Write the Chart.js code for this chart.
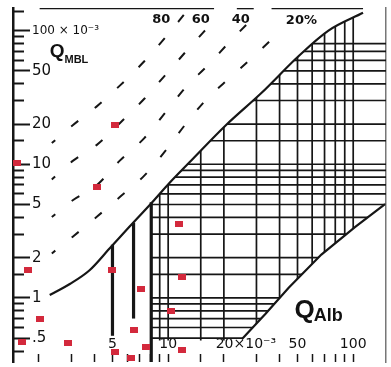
<!DOCTYPE html>
<html><head><meta charset="utf-8">
<script src="https://cdn.jsdelivr.net/npm/chart.js@4.4.1/dist/chart.umd.min.js"></script>
<style>html,body{margin:0;padding:0;background:#fff;}canvas{display:block;}</style>
</head><body>
<canvas id="c" width="391" height="367"></canvas>
<script>
// ---------- data (Q values in units of 10^-3) ----------
const xTickValues = [2,3,4,5,6,7,8,9,10,15,20,30,40,50,60,70,80,90,100];
const xLabelValues = [5,10,50,100];
const xLabelTexts = ['5','10','50','100'];
const xUnitLabelValue = 20;
const xUnitLabelText = '20×10⁻³';
const yMajorTicks = [0.5,1,2,5,10,20,50,100];
const yMajorLabels = ['.5','1','2','5','10','20','50','100 × 10⁻³'];
const yMinorTicks = [0.4,0.6,0.7,0.8,0.9,1.5,3,4,6,7,8,9,15,30,40,60,70,80,90,140];

const patientQAlb = [5.13,1.52,4.10,11.5,1.75,5.0,11.9,7.16,2.02,10.4,6.56,1.62,2.86,7.62,5.19,11.9,6.33];
const patientQMBL = [19.6,10.3,6.71,3.58,1.61,1.61,1.43,1.17,0.70,0.80,0.57,0.466,0.458,0.428,0.393,0.406,0.355];

const qlimQAlb = [2.29,2.94,3.76,4.82,6.17,8.2,10.1,13.0,20.5,32.0,50.6,73.5,113];
const qlimQMBL = [1.05,1.27,1.61,2.34,3.40,5.20,7.18,10.3,19.6,34.3,64.3,100,136];
const lowerQAlb = [25.0,33.6,44.8,67.3,102.6,148.6];
const lowerQMBL = [0.49,0.76,1.19,2.11,3.40,5.02];

const line80QAlb = [2.35,3.05,4.10,5.46,7.43,9.75,12.3];
const line80QMBL = [14.4,19.6,27.0,38.6,59.0,90.3,134];
const line60QAlb = [2.35,3.05,4.10,5.46,7.43,9.75,12.5,17.3];
const line60QMBL = [7.69,10.6,13.9,20.2,30.9,47.3,70,115];
const line40QAlb = [2.35,3.05,4.10,5.46,7.43,9.75,12.5,16.2,22.1,29.7];
const line40QMBL = [4.03,5.38,6.94,10.6,15.7,24.8,38,54.2,85.9,130];
const line20QAlb = [2.35,3.05,4.10,5.46,7.43,9.75,12.5,16.2,21.8,29.0,38.5];
const line20QMBL = [2.15,2.87,4.03,5.66,8.22,12.8,20.2,30.9,45.0,64.3,93.4];

const heavyQAlb = [5, 6.5, 8.1];
const heavyTopQMBL = [2.5, 3.65, 5.2];
const heavyBottomQMBL = [0.52, 0.70, 0.331];

const hatchQAlb = [9,10,15,20,30,40,50,60,70,80,90,100];
const hatchQMBL = [0.5,0.6,0.7,0.8,0.9,1,1.5,2,3,4,5,6,7,8,9,10,15,20,30,40,50,60,70,80];
const hatchLeftQAlb = 8.1;
const hatchBottomQMBL = 0.48;

const frameTopQMBL = 147;
const frameTopSegments = [[2.02,17.7],[23.5,29.0],[36.2,113]];

// ---------- chart ----------
const X_MIN = 1.45, X_MAX = 150.4, Y_MIN = 0.331, Y_MAX = 147.8;
const INK = '#161616';
const zip = (xs, ys) => xs.map((x, i) => ({x, y: ys[i]}));

const dot = document.createElement('canvas');
dot.width = 8; dot.height = 6;
{ const c = dot.getContext('2d'); c.fillStyle = '#d3293c'; c.fillRect(0, 0, 8, 6); }

Chart.defaults.font.family = "'DejaVu Sans', sans-serif";
Chart.defaults.color = '#111';

const common = {showLine: true, pointRadius: 0, pointHoverRadius: 0, fill: false, xAxisID: 'x', yAxisID: 'y'};
const datasets = [];
datasets.push({label: 'patients', data: zip(patientQAlb, patientQMBL), showLine: false,
  pointStyle: dot, pointRadius: 4, order: 0, xAxisID: 'x', yAxisID: 'y'});
datasets.push({...common, role: 'qlim', data: zip(qlimQAlb, qlimQMBL), borderColor: INK, borderWidth: 2.2,
  cubicInterpolationMode: 'monotone', order: 1});
datasets.push({...common, data: zip(lowerQAlb, lowerQMBL), borderColor: INK, borderWidth: 2.2, tension: 0, order: 1});
heavyQAlb.forEach((x, i) => datasets.push({...common,
  data: [{x, y: heavyBottomQMBL[i]}, {x, y: heavyTopQMBL[i]}], borderColor: INK, borderWidth: 3.2, order: 1}));
hatchQAlb.forEach(x => datasets.push({...common, hatch: true,
  data: [{x, y: Y_MIN}, {x, y: Y_MAX}], borderColor: INK, borderWidth: 1.7, order: 2}));
hatchQMBL.forEach(y => datasets.push({...common, hatch: true,
  data: [{x: X_MIN, y}, {x: X_MAX, y}], borderColor: INK, borderWidth: 1.7, order: 2}));
[[line80QAlb, line80QMBL], [line60QAlb, line60QMBL], [line40QAlb, line40QMBL], [line20QAlb, line20QMBL]]
  .forEach(([xs, ys]) => datasets.push({...common, data: zip(xs, ys), borderColor: INK, borderWidth: 2,
    borderDash: [9, 21], borderDashOffset: 4.5, cubicInterpolationMode: 'monotone', order: 3}));
frameTopSegments.forEach(([a, b]) => datasets.push({...common,
  data: [{x: a, y: frameTopQMBL}, {x: b, y: frameTopQMBL}], borderColor: INK, borderWidth: 2, order: 3}));

function zeroFit(s) {
  if (s.isHorizontal()) s.height = 0; else s.width = 0;
  s.paddingLeft = s.paddingRight = s.paddingTop = s.paddingBottom = 0;
}

const hatchClip = {
  id: 'hatchClip',
  beforeDatasetDraw(chart, args) {
    const ds = chart.data.datasets[args.index];
    if (!ds.hatch) return;
    const ctx = chart.ctx, xs = chart.scales.x, ys = chart.scales.y, a = chart.chartArea;
    ctx.save();
    const lx = xs.getPixelForValue(hatchLeftQAlb);
    ctx.beginPath();
    ctx.rect(lx, a.top - 20, a.right + 20 - lx, a.bottom - a.top + 40);
    ctx.clip();
    const idx = chart.data.datasets.findIndex(d => d.role === 'qlim');
    const meta = chart.getDatasetMeta(idx);
    const pts = meta.data;
    ctx.beginPath();
    let ok = false;
    try {
      const line = meta.dataset;
      if (line && typeof line.path === 'function') {
        if (typeof line.updateControlPoints === 'function') line.updateControlPoints(a, 'x');
        line.path(ctx);
        ok = true;
      }
    } catch (e) { ok = false; }
    if (!ok) { ctx.beginPath(); pts.forEach((p, i) => i ? ctx.lineTo(p.x, p.y) : ctx.moveTo(p.x, p.y)); }
    const first = pts[0], last = pts[pts.length - 1];
    const n = lowerQAlb.length;
    ctx.lineTo(a.right + 20, last.y);
    ctx.lineTo(a.right + 20, ys.getPixelForValue(lowerQMBL[n - 1]));
    for (let i = n - 1; i >= 0; i--) ctx.lineTo(xs.getPixelForValue(lowerQAlb[i]), ys.getPixelForValue(lowerQMBL[i]));
    const by = ys.getPixelForValue(hatchBottomQMBL);
    ctx.lineTo(xs.getPixelForValue(lowerQAlb[0]), by);
    ctx.lineTo(first.x, by);
    ctx.closePath();
    ctx.clip();
  },
  afterDatasetDraw(chart, args) {
    const ds = chart.data.datasets[args.index];
    if (ds.hatch) chart.ctx.restore();
  }
};

const annot = {
  id: 'annot',
  afterDatasetsDraw(chart, args, opts) {
    const ctx = chart.ctx, xs = chart.scales.x, ys = chart.scales.y;
    ctx.save();
    ctx.fillStyle = '#111';
    ctx.font = "bold 13px 'DejaVu Sans'";
    ctx.textAlign = 'center'; ctx.textBaseline = 'middle';
    opts.pct.forEach(l => ctx.fillText(l.text, xs.getPixelForValue(l.x), ys.getPixelForValue(l.y)));
    ctx.textAlign = 'left'; ctx.textBaseline = 'alphabetic';
    opts.titles.forEach(t => {
      const x = xs.getPixelForValue(t.x), y = ys.getPixelForValue(t.y);
      ctx.font = `bold ${t.size}px 'Liberation Sans'`;
      ctx.fillText(t.main, x, y);
      const w = ctx.measureText(t.main).width;
      ctx.font = `bold ${t.subSize}px 'Liberation Sans'`;
      ctx.fillText(t.sub, x + w + t.subDx, y + t.subDy);
    });
    ctx.restore();
  }
};

const logAxis = (extra) => Object.assign({type: 'logarithmic', bounds: 'data', afterFit: zeroFit}, extra);

new Chart(document.getElementById('c'), {
  type: 'scatter',
  data: {datasets},
  options: {
    responsive: false, animation: false, devicePixelRatio: 1, events: [],
    layout: {padding: {left: 13, right: 3, top: 8, bottom: 0}},
    plugins: {
      legend: {display: false}, tooltip: {enabled: false}, title: {display: false},
      annot: {
        pct: [{text: '80', x: 9.17, y: 120}, {text: '60', x: 15.0, y: 120},
              {text: '40', x: 24.7, y: 120}, {text: '20%', x: 52.5, y: 119}],
        titles: [
          {main: 'Q', sub: 'MBL', x: 2.29, y: 63.7, size: 19, subSize: 11, subDx: 0, subDy: 6},
          {main: 'Q', sub: 'Alb', x: 48.2, y: 0.712, size: 26, subSize: 18, subDx: -1, subDy: 3}
        ]
      }
    },
    scales: {
      y: logAxis({position: 'left', min: Y_MIN, max: Y_MAX,
        border: {display: true, color: INK, width: 2.5},
        grid: {drawOnChartArea: false, drawTicks: true, tickLength: -17, tickWidth: 2, tickColor: INK},
        ticks: {autoSkip: false, mirror: true, padding: 19, color: '#111',
          font: (c) => (c.tick && c.tick.value === 100) ? {size: 12} : {size: 15},
          callback: (v) => { const i = yMajorTicks.indexOf(v); return i >= 0 ? yMajorLabels[i] : ''; }},
        afterBuildTicks: (s) => { s.ticks = yMajorTicks.map(v => ({value: v})); }
      }),
      yMinor: logAxis({position: 'left', min: Y_MIN, max: Y_MAX,
        border: {display: false},
        grid: {drawOnChartArea: false, drawTicks: true, tickLength: -11, tickWidth: 2, tickColor: INK},
        ticks: {display: false, autoSkip: false},
        afterBuildTicks: (s) => { s.ticks = yMinorTicks.map(v => ({value: v})); }
      }),
      yR: logAxis({position: 'right', min: Y_MIN, max: Y_MAX,
        border: {display: true, color: '#777', width: 1.5},
        grid: {drawOnChartArea: false, drawTicks: false},
        ticks: {display: false}
      }),
      x: logAxis({position: 'bottom', min: X_MIN, max: X_MAX,
        border: {display: false},
        grid: {drawOnChartArea: false, drawTicks: true, tickLength: -8, tickWidth: 1.5, tickColor: INK},
        ticks: {autoSkip: false, maxRotation: 0, minRotation: 0, mirror: true, padding: 9, color: '#111',
          font: {size: 14},
          callback: (v) => { const i = xLabelValues.indexOf(v); return i >= 0 ? xLabelTexts[i] : ''; }},
        afterBuildTicks: (s) => { s.ticks = xTickValues.map(v => ({value: v})); }
      }),
      x20: logAxis({position: 'bottom', min: X_MIN, max: X_MAX,
        border: {display: false},
        grid: {display: false},
        ticks: {autoSkip: false, maxRotation: 0, minRotation: 0, mirror: true, padding: 9, color: '#111',
          font: {size: 14}, labelOffset: 22,
          callback: () => xUnitLabelText},
        afterBuildTicks: (s) => { s.ticks = [{value: xUnitLabelValue}]; }
      })
    }
  },
  plugins: [hatchClip, annot]
});
</script>
</body></html>
